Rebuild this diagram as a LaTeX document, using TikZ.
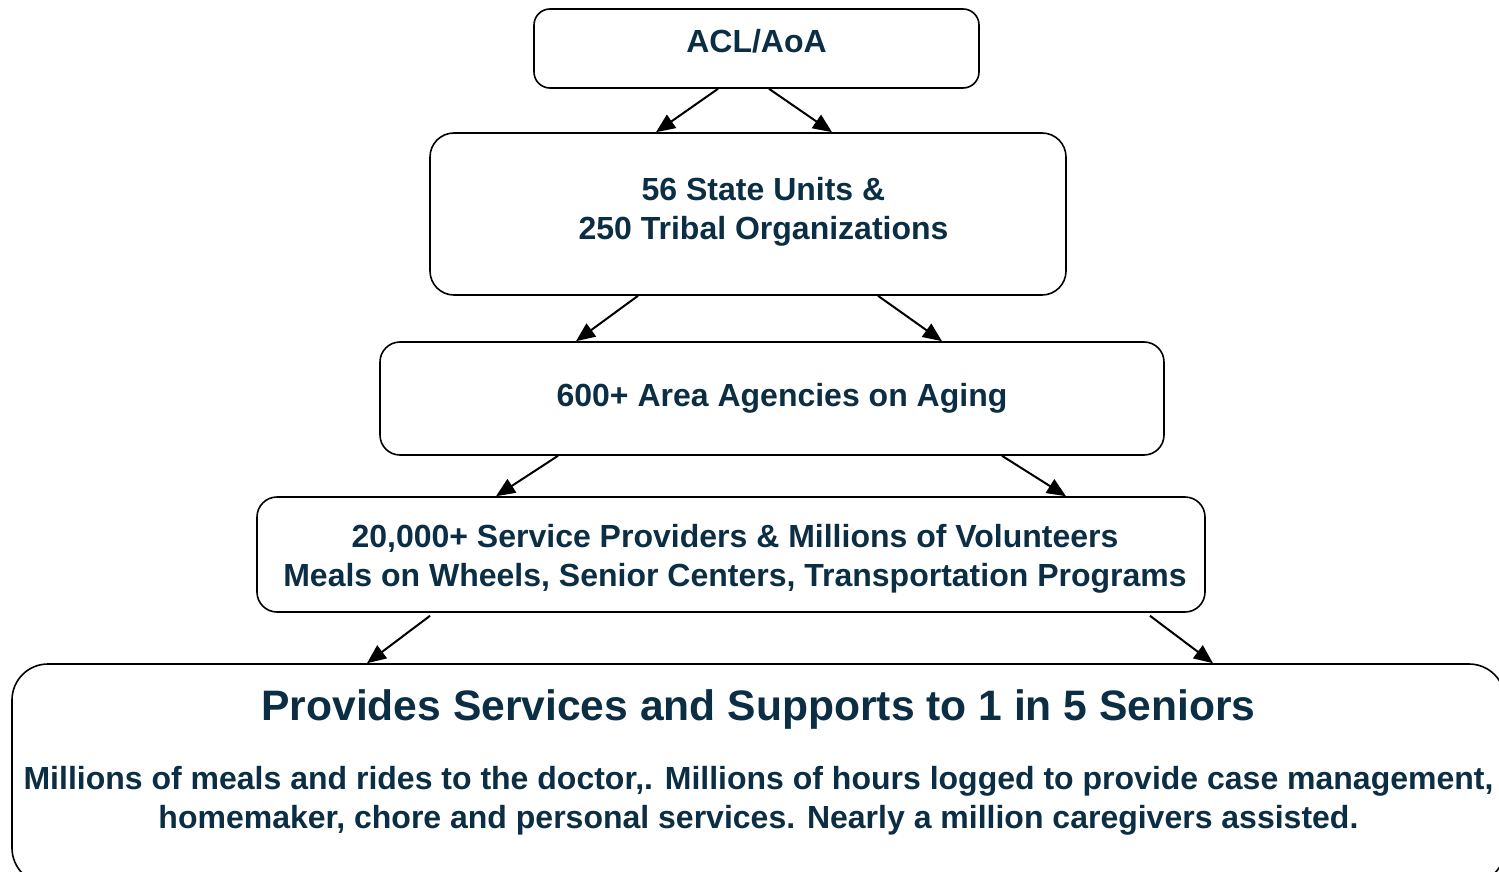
\documentclass[tikz,border=0pt]{standalone}
\usepackage{fontspec}
\setmainfont{Liberation Sans}
\usetikzlibrary{arrows.meta}
\definecolor{navy}{HTML}{0B2E44}
\tikzset{
  tier/.style={draw, line width=0.8pt, rounded corners=#1, align=center, text=navy,
    font=\bfseries\fontsize{16}{19.5}\selectfont, inner sep=0pt},
  tier/.default=8pt,
  flow/.style={-{Triangle[length=9.5pt,width=8pt]}, line width=1pt}
}

\begin{document}
\begin{tikzpicture}[x=0.5pt,y=-0.5pt]
\useasboundingbox (0,0) rectangle (1499,872);
\node[tier=8pt, minimum width=222.5pt, minimum height=39.5pt, text height=11.5pt, text depth=7.5pt] (acl) at (756.5,48.5) {ACL/AoA};
\node[tier=12pt, minimum width=318pt, minimum height=81pt] (state) at (748,214) {\hspace*{15.5pt}56 State Units \&\\\hspace*{15.5pt}250 Tribal Organizations\\[-14pt]\mbox{}};
\node[tier=10pt, minimum width=392pt, minimum height=56.5pt] (aaa) at (772,398.5) {\hspace*{10pt}600+ Area Agencies on Aging};
\node[tier=10pt, minimum width=474pt, minimum height=57.5pt] (providers) at (731,554.5) {\hspace*{4pt}20,000+ Service Providers \& Millions of Volunteers\\\hspace*{4pt}Meals on Wheels, Senior Centers, Transportation Programs\\[-20pt]\mbox{}};
\node[tier=18pt, minimum width=746.5pt, minimum height=110pt] (seniors) at (758.5,774) {{\fontsize{21.3}{27}\selectfont Provides Services and Supports to 1 in 5 Seniors}\\[15pt]
  Millions of meals and rides to the doctor,. Millions of hours logged to provide case management,\\
  homemaker, chore and personal services. Nearly a million caregivers assisted.\\[-5pt]\mbox{}};

% arrows between tiers
\draw[flow] ([xshift=-19.25pt]acl.south) -- ([xshift=-46pt]state.north);
\draw[flow] ([xshift=6.25pt]acl.south) -- ([xshift=42pt]state.north);
\draw[flow] ([xshift=-55pt]state.south) -- ([xshift=-98pt]aaa.north);
\draw[flow] ([xshift=65pt]state.south) -- ([xshift=85pt]aaa.north);
\draw[flow] ([xshift=-107pt]aaa.south) -- ([xshift=-117.5pt]providers.north);
\draw[flow] ([xshift=115pt]aaa.south) -- ([xshift=167.5pt]providers.north);
\draw[flow] ([xshift=-150.5pt,yshift=-1.5pt]providers.south) -- ([xshift=-195.75pt]seniors.north);
\draw[flow] ([xshift=209.5pt,yshift=-1.5pt]providers.south) -- ([xshift=227.25pt]seniors.north);
\end{tikzpicture}
\end{document}
